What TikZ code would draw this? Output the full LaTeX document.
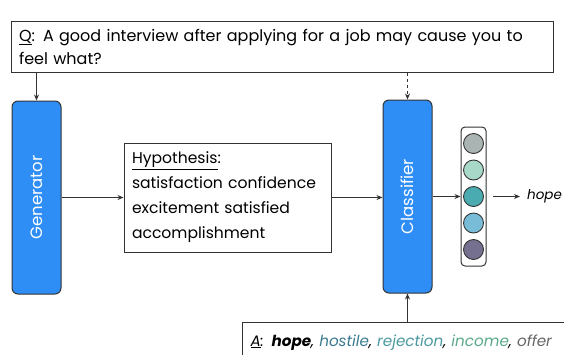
\documentclass[tikz,border=0pt]{standalone}
\usepackage{fontspec}
\setmainfont{Poppins}
\usetikzlibrary{arrows.meta}
\definecolor{blk}{HTML}{333333}
\definecolor{blu}{HTML}{2E8EF5}
\definecolor{cA}{HTML}{A9B4B3}
\definecolor{cB}{HTML}{A8D8C8}
\definecolor{cC}{HTML}{4AACB0}
\definecolor{cD}{HTML}{78BCD8}
\definecolor{cE}{HTML}{75708F}
\definecolor{hostc}{HTML}{3A7A90}
\definecolor{rejc}{HTML}{4A9AA0}
\definecolor{incc}{HTML}{5AAA8A}
\definecolor{offc}{HTML}{666666}
\tikzset{
  txtbox/.style={draw=blk, line width=1pt, fill=white, inner xsep=8pt, inner ysep=4pt, align=left},
  module/.style={draw=blk, line width=1pt, fill=blu, rounded corners=6pt, minimum width=49pt, minimum height=193pt, text=white, font=\fontsize{16.5}{16.5}\selectfont},
  arr/.style={draw=blk, line width=0.9pt, -{Stealth[length=6pt,width=5pt]}},
  dot/.style={circle, draw=blk, line width=0.9pt, minimum size=20pt, inner sep=0pt},
}
\begin{document}
\begin{tikzpicture}[x=1pt,y=-1pt]
\useasboundingbox (0,0) rectangle (564,354);
\clip (0,0) rectangle (564,354);
\node[txtbox, minimum width=542pt, minimum height=51pt, text width=526pt, font=\fontsize{16}{23}\selectfont] (q) at (282,46.5)
  {\underline{Q}: A good interview after applying for a job may cause you to feel what?};
\node[module] (gen) at (36.5,197.5) {\rotatebox{90}{Generator}};
\node[module] (cls) at (407.5,196.5) {\rotatebox{90}{Classifier}};
\node[txtbox, minimum width=207pt, minimum height=109pt, text width=191pt, font=\fontsize{15.6}{25}\selectfont] (hyp) at (227.5,197.5)
  {\underline{Hypothesis}:\\ satisfaction confidence\\ excitement satisfied\\ accomplishment};
\node[draw=blk, line width=1pt, fill=white, rounded corners=4pt, minimum width=25pt, minimum height=139pt] (vec) at (473.5,196.5) {};
\node[dot, fill=cA] (c1) at (473.5,143.5) {};
\node[dot, fill=cB] (c2) at (473.5,170) {};
\node[dot, fill=cC] (c3) at (473.5,196.5) {};
\node[dot, fill=cD] (c4) at (473.5,223) {};
\node[dot, fill=cE] (c5) at (473.5,249.5) {};
\node[anchor=west, inner xsep=7pt, inner ysep=0pt, font=\fontsize{13.5}{13.5}\selectfont\itshape] (hope) at (520,196.5) {hope};
\coordinate (hs) at (493,196.5);
\node[txtbox, anchor=north west, minimum height=40pt, text width=340pt, font=\fontsize{15.2}{15.2}\selectfont\itshape] (ans) at (242,322)
  {\underline{A}: \textbf{hope}, \textcolor{hostc}{hostile}, \textcolor{rejc}{rejection}, \textcolor{incc}{income}, \textcolor{offc}{offer}};
\draw[arr] (gen.north |- q.south) -- (gen.north);
\draw[arr, dashed] (cls.north |- q.south) -- (cls.north);
\draw[arr] (gen.east |- hyp.west) -- (hyp.west);
\draw[arr] (hyp.east) -- (cls.west |- hyp.east);
\draw[arr] (cls.east) -- (vec.west);
\draw[arr] (hs) -- (hope.west);
\draw[arr] (cls.south |- ans.north) -- (cls.south);
\end{tikzpicture}
\end{document}
